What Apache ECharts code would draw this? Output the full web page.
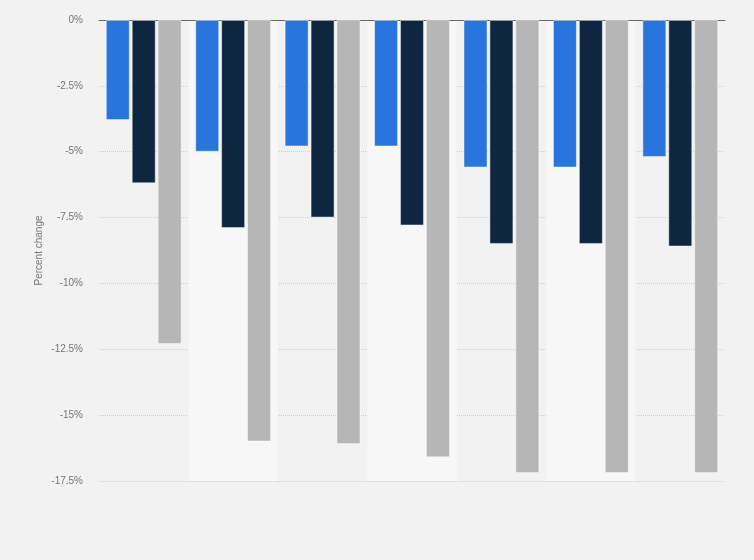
<!DOCTYPE html>
<html>
<head>
<meta charset="utf-8">
<script src="https://cdn.jsdelivr.net/npm/echarts@6/dist/echarts.min.js"></script>
<style>
  html, body { margin: 0; padding: 0; background: #f2f2f2; }
  #chart { width: 754px; height: 560px; }
</style>
</head>
<body>
<div id="chart"></div>
<script>
// 7 groups, no labels shown on the x axis
var categories = ['1', '2', '3', '4', '5', '6', '7'];
var seriesA = [-3.8, -5.0, -4.8, -4.8, -5.6, -5.6, -5.2];
var seriesB = [-6.2, -7.9, -7.5, -7.8, -8.5, -8.5, -8.6];
var seriesC = [-12.3, -16.0, -16.1, -16.6, -17.2, -17.2, -17.2];
var colors = ['#2876dd', '#0f2640', '#b6b6b6'];

var chart = echarts.init(document.getElementById('chart'));

function bar(name, data, color) {
    return {
        name: name,
        type: 'bar',
        data: data,
        barWidth: 24,
        barGap: '8%',
        itemStyle: {
            color: color,
            borderColor: 'rgba(255,255,255,0.45)',
            borderWidth: 1
        }
    };
}

var option = {
    backgroundColor: '#f2f2f2',
    animation: false,
    grid: { left: 99, right: 29, top: 20, bottom: 79 },
    xAxis: {
        type: 'category',
        data: categories,
        axisLine: { onZero: true, lineStyle: { color: '#666', width: 1 } },
        axisTick: { show: false },
        axisLabel: { show: false },
        splitArea: {
            show: true,
            areaStyle: { color: ['rgba(0,0,0,0)', '#f7f7f7'] }
        }
    },
    yAxis: {
        type: 'value',
        min: -17.5,
        max: 0,
        interval: 2.5,
        name: 'Percent change',
        nameLocation: 'middle',
        nameGap: 55,
        nameMoveOverlap: false,
        nameTextStyle: { color: '#777', fontSize: 10, fontFamily: 'Arial' },
        axisLine: { show: false },
        axisTick: { show: false },
        axisLabel: {
            color: '#777',
            fontSize: 10,
            fontFamily: 'Arial',
            margin: 16,
            formatter: function (v) { return v + '%'; }
        },
        splitLine: { lineStyle: { color: '#cfcfcf', type: 'dotted' } }
    },
    series: [
        bar('Series 1', seriesA, colors[0]),
        bar('Series 2', seriesB, colors[1]),
        bar('Series 3', seriesC, colors[2])
    ]
};
chart.setOption(option);
</script>
</body>
</html>
